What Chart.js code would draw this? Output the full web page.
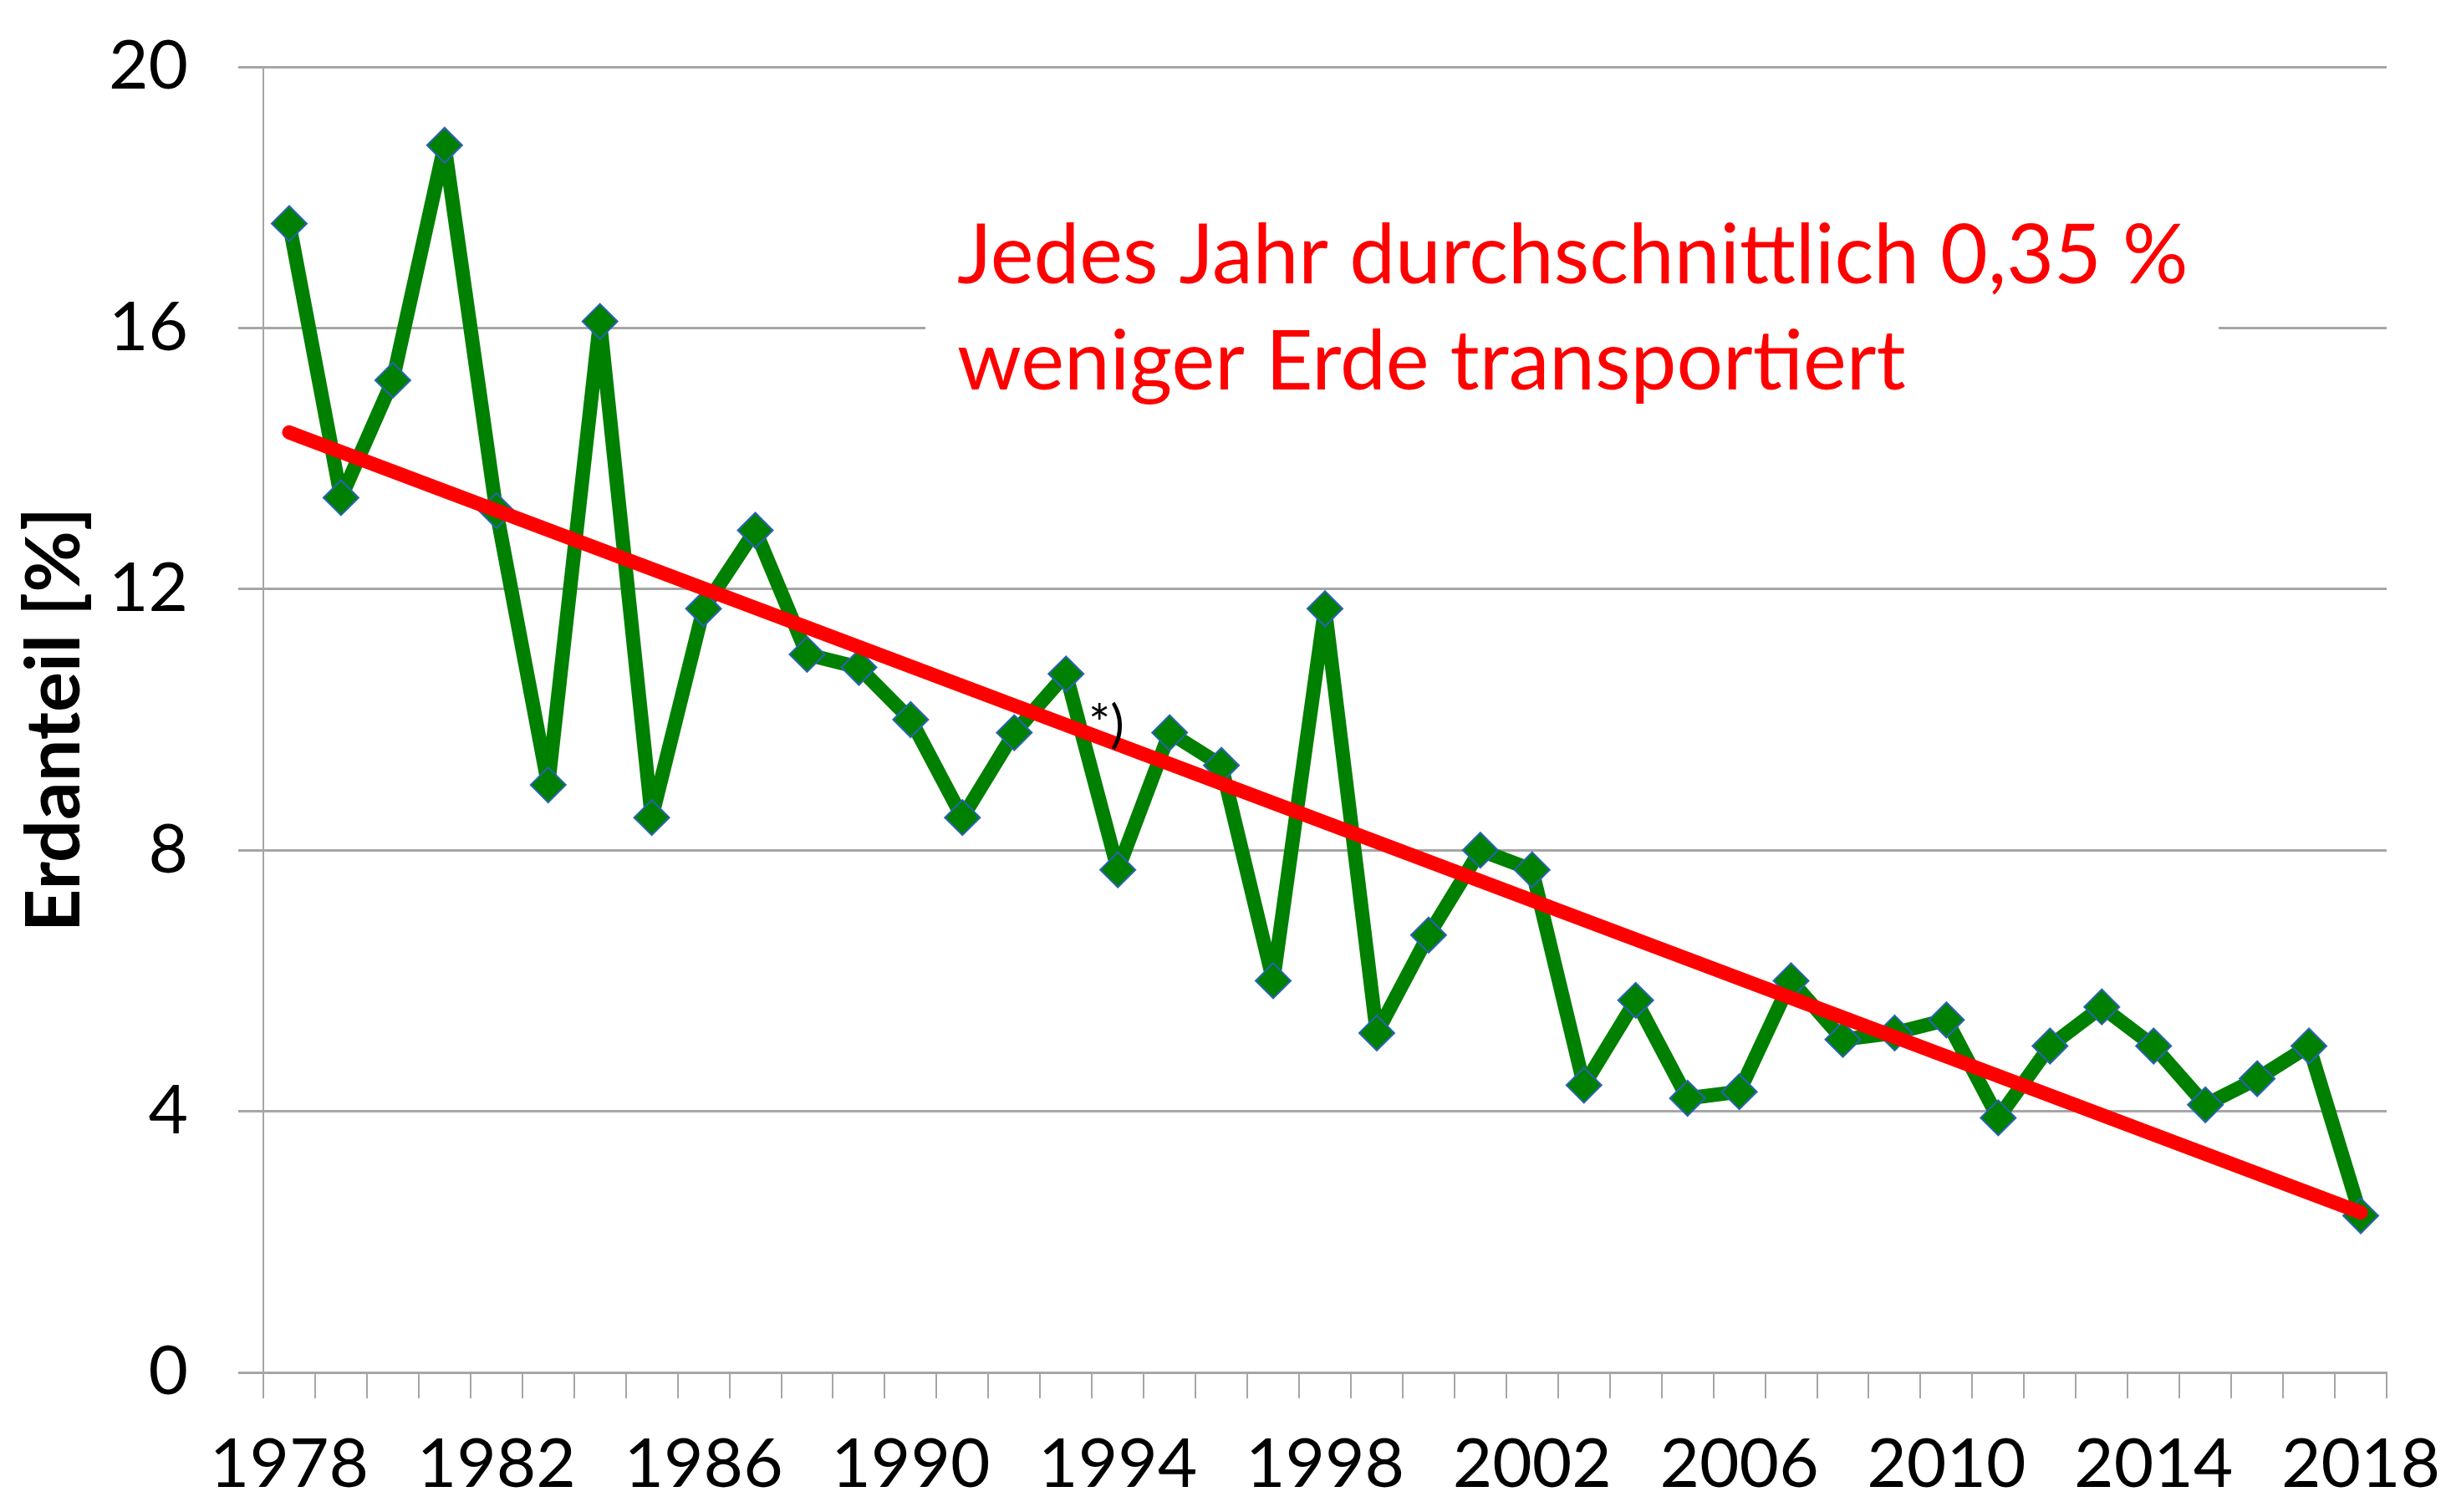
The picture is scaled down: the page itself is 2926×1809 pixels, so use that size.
<!DOCTYPE html>
<html>
<head>
<meta charset="utf-8">
<script src="https://cdn.jsdelivr.net/npm/chart.js@4.4.0/dist/chart.umd.min.js"></script>
<style>
    body { margin: 0; background: #ffffff; overflow: hidden; }
</style>
</head>
<body>
<canvas id="myChart" width="2926" height="1809"></canvas>
<script>
const years = ['1978', '1979', '1980', '1981', '1982', '1983', '1984', '1985', '1986', '1987',
    '1988', '1989', '1990', '1991', '1992', '1993', '1994', '1995', '1996', '1997',
    '1998', '1999', '2000', '2001', '2002', '2003', '2004', '2005', '2006', '2007',
    '2008', '2009', '2010', '2011', '2012', '2013', '2014', '2015', '2016', '2017', '2018'];

const erdanteil = [17.6, 13.4, 15.2, 18.8, 13.2, 9.0, 16.1, 8.5, 11.7, 12.9,
    11.0, 10.8, 10.0, 8.5, 9.8, 10.7, 7.7, 9.8, 9.3, 6.0,
    11.7, 5.2, 6.7, 8.0, 7.7, 4.4, 5.7, 4.2, 4.3, 6.0,
    5.1, 5.2, 5.4, 3.9, 5.0, 5.6, 5.0, 4.1, 4.5, 5.0, 2.4];

const trendYears = ['1978', '2018'];
const trendValues = [14.4, 2.45];

const xTickLabels = ['1978', '1982', '1986', '1990', '1994', '1998', '2002', '2006', '2010', '2014', '2018'];
const yTickValues = [0, 4, 8, 12, 16, 20];

const noteLines = ['Jedes Jahr durchschnittlich 0,35 %', 'weniger Erde transportiert'];
const starNote = '*)';

const fontName = 'Lato, "Open Sans", sans-serif';

// white box + red text sit over the grid, under the lines
const notesPlugin =
{
    id: 'notes',
    beforeDatasetsDraw: (chart) =>
    {
        const ctx = chart.ctx;
        ctx.save();
        ctx.fillStyle = '#ffffff';
        ctx.fillRect(1107, 240, 1547, 280);
        ctx.fillStyle = '#ff0000';
        ctx.font = '98px ' + fontName;
        ctx.textAlign = 'left';
        ctx.textBaseline = 'alphabetic';
        ctx.fillText(noteLines[0], 1145, 339);
        ctx.fillText(noteLines[1], 1145, 466);
        ctx.restore();
    },
    afterDatasetsDraw: (chart) =>
    {
        const ctx = chart.ctx;
        ctx.save();
        ctx.fillStyle = '#000000';
        ctx.font = '62px ' + fontName;
        ctx.textAlign = 'left';
        ctx.textBaseline = 'middle';
        ctx.fillText(starNote, 1302, 868);
        ctx.restore();
    }
};

const ctx = document.getElementById('myChart');

const data =
{
    labels: years,
    datasets:
    [
        {
            label: 'Trend',
            data: trendYears.map((y, i) => ({ x: y, y: trendValues[i] })),
            borderColor: '#ff0000',
            borderWidth: 17,
            borderCapStyle: 'round',
            pointRadius: 0,
            fill: false,
            order: 0
        },
        {
            label: 'Erdanteil',
            data: erdanteil,
            borderColor: '#008000',
            borderWidth: 17,
            borderJoinStyle: 'round',
            pointStyle: 'rectRot',
            pointRadius: 21,
            pointBackgroundColor: '#008000',
            pointBorderColor: '#2a62b8',
            pointBorderWidth: 2,
            fill: false,
            tension: 0,
            order: 1
        }
    ]
};

new Chart(ctx,
{
    type: 'line',
    data: data,
    plugins: [notesPlugin],
    options:
    {
        responsive: false,
        animation: false,
        layout:
        {
            padding: { top: 80, right: 71, left: 0, bottom: 0 }
        },
        plugins:
        {
            legend: { display: false },
            tooltip: { enabled: false }
        },
        scales:
        {
            x:
            {
                type: 'category',
                offset: true,
                grid:
                {
                    offset: true,
                    drawOnChartArea: false,
                    drawTicks: true,
                    tickLength: 31,
                    color: '#a6a6a6',
                    lineWidth: 2
                },
                border: { display: true, color: '#a6a6a6', width: 3 },
                ticks:
                {
                    autoSkip: false,
                    maxRotation: 0,
                    minRotation: 0,
                    padding: 30,
                    color: '#000000',
                    font: { family: fontName, size: 82 },
                    callback: (value, index) =>
                    {
                        return xTickLabels.includes(years[index]) ? years[index] : '';
                    }
                },
                afterFit: (scale) =>
                {
                    scale.height = 167;
                    scale.paddingLeft = 0;
                    scale.paddingRight = 0;
                }
            },
            y:
            {
                min: 0,
                max: 20,
                afterBuildTicks: (scale) =>
                {
                    scale.ticks = yTickValues.map((v) => ({ value: v }));
                },
                grid:
                {
                    color: '#a6a6a6',
                    lineWidth: 3,
                    tickLength: 30
                },
                border: { display: true, color: '#a6a6a6', width: 2 },
                ticks:
                {
                    padding: 60,
                    color: '#000000',
                    font: { family: fontName, size: 82 }
                },
                title:
                {
                    display: true,
                    text: 'Erdanteil [%]',
                    color: '#000000',
                    font: { family: fontName, size: 90, weight: 'bold' },
                    padding: { top: 12, bottom: 0 }
                },
                afterFit: (scale) =>
                {
                    scale.width = 315;
                    scale.paddingTop = 0;
                    scale.paddingBottom = 0;
                }
            }
        }
    }
});
</script>
</body>
</html>
